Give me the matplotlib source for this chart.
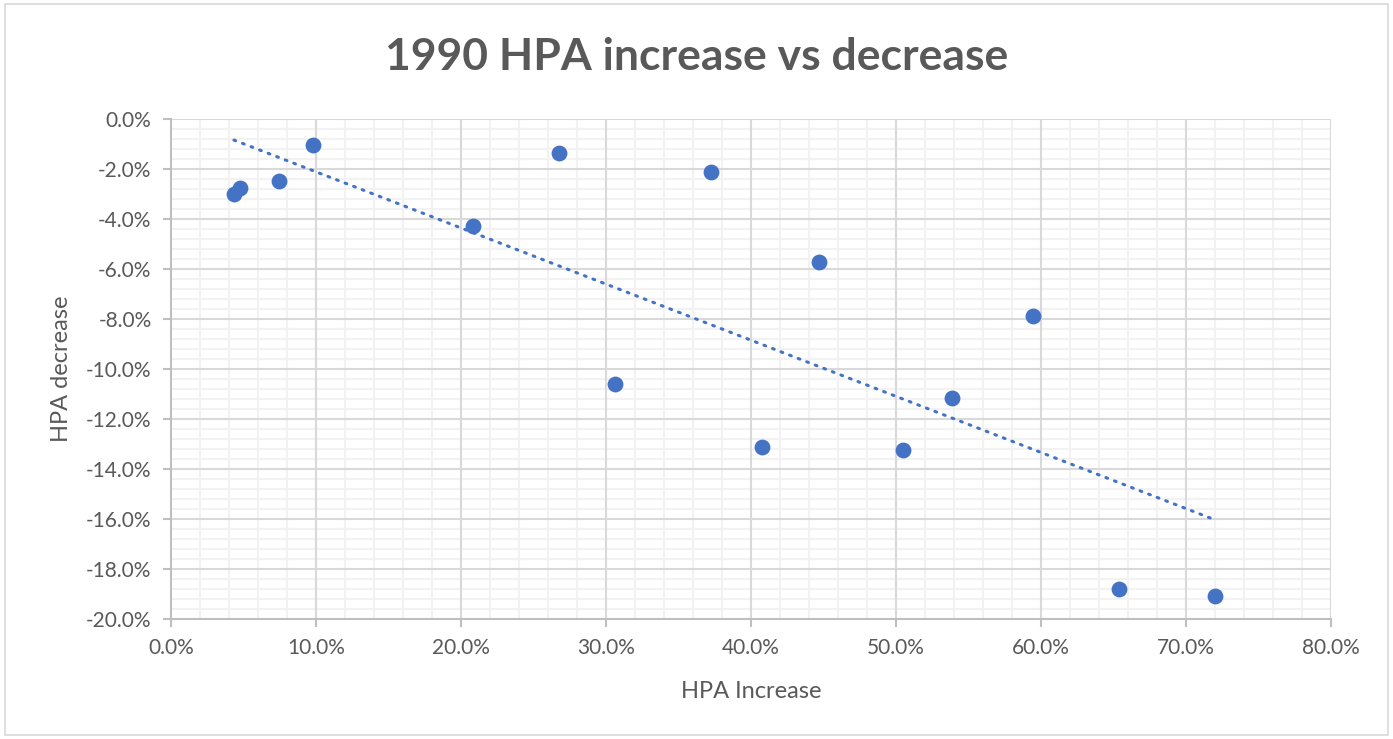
import numpy as np
import matplotlib
matplotlib.use("Agg")
import matplotlib.pyplot as plt
from matplotlib.ticker import MultipleLocator, FuncFormatter
from matplotlib.patches import Rectangle

# values (fractions)
hpa_increase = [0.0434, 0.0476, 0.0745, 0.0979, 0.208, 0.2676, 0.306, 0.3724,
                0.4076, 0.4469, 0.5048, 0.5386, 0.5945, 0.6538, 0.720]
hpa_decrease = [-0.0300, -0.0276, -0.0248, -0.0104, -0.0428, -0.0136, -0.106, -0.0212,
                -0.1312, -0.0572, -0.1324, -0.1116, -0.0788, -0.188, -0.1908]

blue = "#4472C4"
grey_text = "#595959"

plt.rcParams['font.family'] = ['Lato', 'DejaVu Sans']

fig = plt.figure(figsize=(13.93, 7.39), dpi=100)
ax = fig.add_axes([171 / 1393, 1 - 619 / 739, (1331 - 171) / 1393, (619 - 119) / 739])

# outer chart border
fig.patches.append(Rectangle((5 / 1393, 4 / 739), 1383 / 1393, 731 / 739,
                             transform=fig.transFigure, fill=False,
                             edgecolor="#d9d9d9", linewidth=1.2))

ax.scatter(hpa_increase, hpa_decrease, s=130, color=blue, zorder=4, linewidths=0)

# linear trendline over the data range
x = np.array(hpa_increase)
slope, intercept = np.polyfit(x, hpa_decrease, 1)
xs = np.array([x.min(), x.max()])
ax.plot(xs, slope * xs + intercept, color=blue, linewidth=2.2,
        linestyle=(0, (0.6, 2.4)), dash_capstyle="round", zorder=3)

ax.set_xlim(0, 0.8)
ax.set_ylim(-0.2, 0)
ax.xaxis.set_major_locator(MultipleLocator(0.1))
ax.xaxis.set_minor_locator(MultipleLocator(0.02))
ax.yaxis.set_major_locator(MultipleLocator(0.02))
ax.yaxis.set_minor_locator(MultipleLocator(0.004))
pct = FuncFormatter(lambda v, p: f"{v * 100:.1f}%")
ax.xaxis.set_major_formatter(pct)
ax.yaxis.set_major_formatter(pct)

# minor grid underneath, major grid drawn on top of it
ax.grid(which="minor", color="#f2f2f2", linewidth=1.5)
ax.set_axisbelow(True)
for v in ax.get_xticks():
    if 0 < v <= 0.8:
        ax.axvline(v, color="#d9d9d9", linewidth=1.5, zorder=1)
for v in ax.get_yticks():
    if -0.2 < v <= 0:
        ax.axhline(v, color="#d9d9d9", linewidth=1.5, zorder=1)

for side in ["top", "right"]:
    ax.spines[side].set_visible(False)
for side in ["left", "bottom"]:
    ax.spines[side].set_color("#bfbfbf")
    ax.spines[side].set_linewidth(1.5)

ax.tick_params(which="major", length=6, width=1.5, color="#bfbfbf",
               labelsize=15, labelcolor=grey_text, pad=8)
ax.tick_params(which="minor", length=0)

ax.set_xlabel("HPA Increase", fontsize=17, color=grey_text, labelpad=16)
ax.set_ylabel("HPA decrease", fontsize=17, color=grey_text, labelpad=10)
fig.suptitle("1990 HPA increase vs decrease", fontsize=32, fontweight="bold",
             color=grey_text, y=0.95)

fig.savefig("out.png", dpi=100)
